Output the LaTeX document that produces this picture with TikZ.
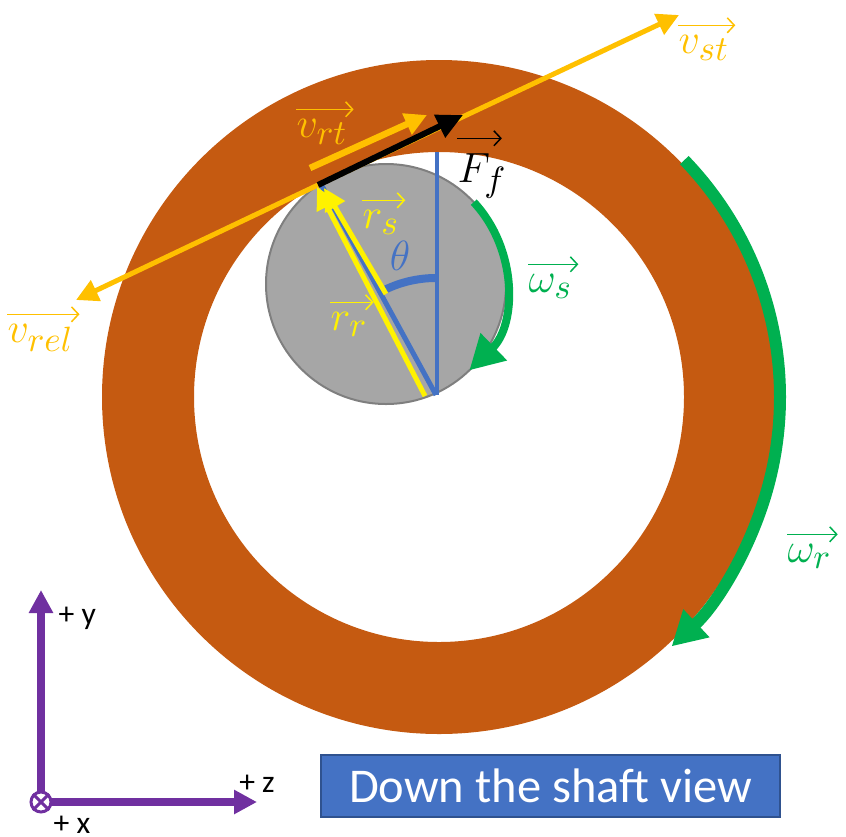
\documentclass[tikz,border=0pt]{standalone}
\usepackage{amsmath,amssymb}
\usepackage{xcolor}
\usepackage{fontspec}
\newfontfamily\calibri{Carlito}
\usetikzlibrary{arrows.meta, positioning}
\DeclareMathSizes{12}{12}{10}{8}

\definecolor{rust}{HTML}{C55A11}
\definecolor{gold}{HTML}{FFC000}
\definecolor{leaf}{HTML}{00B050}
\definecolor{steel}{HTML}{4472C4}
\definecolor{steeledge}{HTML}{2F528F}
\definecolor{grape}{HTML}{7030A0}
\definecolor{stone}{HTML}{A6A6A6}
\definecolor{stoneedge}{HTML}{7F7F7F}

\begin{document}
\begin{tikzpicture}
\tikzstyle{vec} = [line width=0.05cm, -{Triangle[length=0.22cm, width=0.22cm]}]
\tikzstyle{spin} = [draw=leaf, -{Triangle[length=0.34cm, width=0.36cm]}]
\tikzstyle{lab} = [font=\fontsize{12}{14}\selectfont, inner sep=0pt, text height=0.2cm, text depth=0.08cm, anchor=base west]
\tikzstyle{over} = [line width=0.015cm, -{Straight Barb[length=0.07cm, width=0.15cm]}]
\tikzstyle{axis} = [draw=grape, line width=0.08cm, -{Triangle[length=0.23cm, width=0.23cm]}]
\tikzstyle{axlab} = [font=\calibri\fontsize{9}{10}\selectfont, inner sep=0pt]
\tikzstyle{title} = [rectangle, minimum width=4.59cm, minimum height=0.62cm, fill=steel, draw=steeledge, line width=0.02cm, text=white, font=\calibri\fontsize{13.8}{15}\selectfont]

\useasboundingbox (0,0) rectangle (8.46,8.36);

\coordinate (ringc) at (4.39,4.39);
\coordinate (roller) at (3.86,5.52);
\coordinate (pivot) at (4.36,4.41);
\coordinate (contact) at (3.18,6.51);
\coordinate (vsttip) at (6.79,8.21);
\coordinate (vreltip) at (0.76,5.36);
\coordinate (vrtstart) at (3.10,6.68);
\coordinate (vrttip) at (4.27,7.21);
\coordinate (fftip) at (4.63,7.21);
\coordinate (vtop) at (4.37,6.84);
\coordinate (vbot) at (4.37,4.41);
\coordinate (radtop) at (3.22,6.50);
\coordinate (rrstart) at (4.25,4.40);
\coordinate (rrtip) at (3.17,6.49);
\coordinate (rsstart) at (3.86,5.42);
\coordinate (rstip) at (3.24,6.48);

\fill[rust, even odd rule] (ringc) circle (3.37) (ringc) circle (2.45);
\draw[spin, line width=0.12cm] (ringc) ++(44:3.41) arc[start angle=44, end angle=-47, radius=3.41];

\filldraw[fill=stone, draw=stoneedge, line width=0.02cm] (roller) circle (1.20);
\draw[spin, line width=0.08cm] (roller) ++(43:1.20) arc[start angle=43, end angle=-46, radius=1.20];

\draw[vec, gold] (contact) -- (vsttip);
\draw[vec, gold] (contact) -- (vreltip);
\draw[vec, gold, line width=0.065cm] (vrtstart) -- (vrttip);

\draw[steel, line width=0.045cm] (vtop) -- (vbot);
\draw[steel, line width=0.05cm] (pivot) -- (radtop);
\draw[steel, line width=0.08cm] (pivot) ++(90:1.17) arc[start angle=90, end angle=118, radius=1.17];

\draw[vec, yellow] (rrstart) -- (rrtip);
\draw[vec, yellow] (rsstart) -- (rstip);

\draw[vec, black, line width=0.06cm, -{Triangle[length=0.26cm, width=0.24cm]}] (contact) -- (fftip);

\node (vst) [lab, text=gold] at (6.78,7.83) {$v_{st}$};
\node (vrel) [lab, text=gold] at (0.07,4.94) {$v_{rel}$};
\node (vrt) [lab, text=gold] at (2.96,6.99) {$v_{rt}$};
\node (ff) [lab, text height=0.36cm] at (4.57,6.54) {$F_f$};
\node (rs) [lab, text=yellow, text depth=0.05cm] at (3.62,6.08) {$r_s$};
\node (rr) [lab, text=yellow] at (3.30,5.06) {$r_r$};
\node (ws) [lab, text=leaf] at (5.28,5.44) {$\omega_s$};
\node (wr) [lab, text=leaf] at (7.87,2.74) {$\omega_r$};
\node (theta) [font=\fontsize{12}{14}\selectfont, inner sep=0pt, text=steel] at (4.00,5.80) {$\theta$};

\foreach \n/\c in {vst/gold, vrel/gold, vrt/gold, rs/yellow, rr/yellow, ws/leaf, wr/leaf}
  \draw[over, \c] ([yshift=0.07cm]\n.north west) -- ([xshift=0.05cm, yshift=0.07cm]\n.north east);
\draw[over] ([yshift=0.07cm]ff.north west) -- ([xshift=-0.06cm, yshift=0.07cm]ff.north east);

\coordinate (origin) at (0.41,0.34);
\coordinate (ytip) at (0.41,2.46);
\coordinate (ztip) at (2.57,0.34);
\draw[axis] (origin) -- (ytip);
\draw[axis] (origin) -- (ztip);
\node (xdot) [circle, draw=grape, fill=white, line width=0.03cm, minimum size=0.2cm, inner sep=0pt] at (origin) {};
\draw[grape, line width=0.03cm] (xdot.north west) -- (xdot.south east) (xdot.north east) -- (xdot.south west);

\node (ylab) [axlab, below right=0.16cm and 0.17cm of ytip] {+ y};
\node (zlab) [axlab, above=0.09cm of ztip] {+ z};
\node (xlab) [axlab, below right=0.13cm and 0.12cm of origin] {+ x};

\node (view) [title] at (5.505,0.50) {Down the shaft view};
\end{tikzpicture}
\end{document}
